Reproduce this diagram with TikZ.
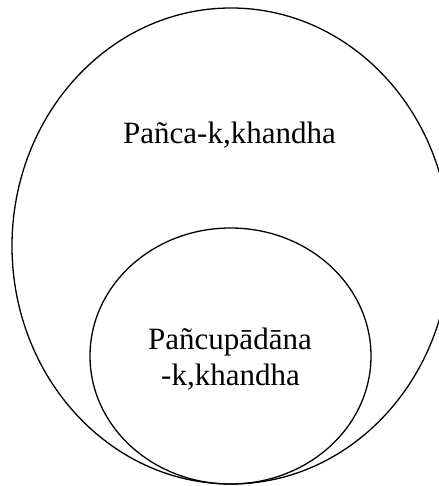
\documentclass[tikz,border=0pt]{standalone}
\usepackage{fontspec}
\setmainfont{Liberation Serif}
\usetikzlibrary{shapes.geometric}
\begin{document}
\begin{tikzpicture}[x=1bp,y=-1bp,
  ring/.style={draw=black, line width=1.3bp, ellipse, inner sep=0pt, outer sep=0pt},
  label/.style={font=\fontsize{31bp}{37bp}\selectfont, inner sep=0pt, anchor=base}]
\useasboundingbox (0,0) rectangle (439,486);
\clip (0,0) rectangle (439,486);
\node[ring, minimum width=438bp, minimum height=476bp] (outer) at (231,246) {};
\node[ring, minimum width=281bp, minimum height=256bp] (inner) at (230.5,356) {};
\node[label] (t1) at (229.5,144) {Pañca-k,khandha};
\node[label] (t2) at (230,349) {Pañcupādāna};
\node[label] (t3) at (230.5,385) {-k,khandha};
\end{tikzpicture}
\end{document}
